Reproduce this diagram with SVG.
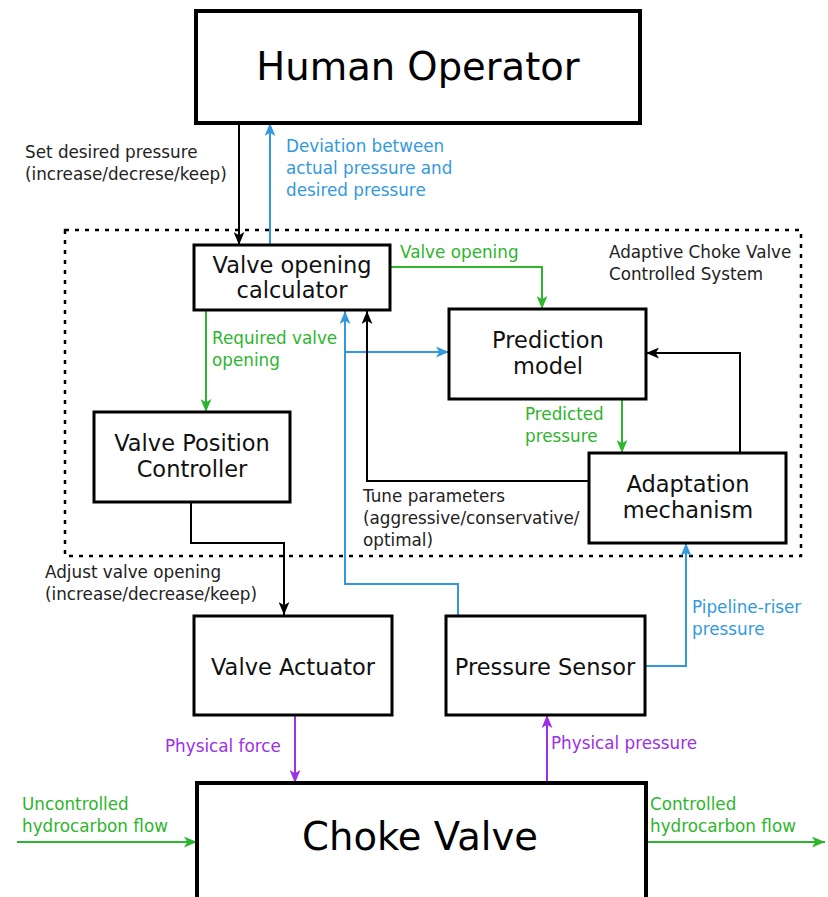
<svg xmlns="http://www.w3.org/2000/svg" width="828" height="897" viewBox="0 0 828 897">
  <style>
    .box { fill: #fff; stroke: #000; stroke-width: 3; }
    .big { fill: #fff; stroke: #000; stroke-width: 4; }
    .bt { font-family: "DejaVu Sans", Verdana, sans-serif; font-size: 22.5px; fill: #111; text-anchor: middle; }
    .ht { font-family: "DejaVu Sans", Verdana, sans-serif; font-size: 38.5px; fill: #000; text-anchor: middle; }
    .lb { font-family: "DejaVu Sans", Verdana, sans-serif; font-size: 16.8px; }
    .k { fill: #222; }
    .g { fill: #2db52d; }
    .b { fill: #3399dd; }
    .p { fill: #9b30e8; }
    .c { fill: none; stroke-width: 2; }
    .ck { stroke: #000; }
    .cg { stroke: #2db52d; }
    .cb { stroke: #3399dd; }
    .cp { stroke: #9b30e8; }
  </style>
  <defs>
    <marker id="ak" viewBox="0 0 12 10" refX="12" refY="5" markerWidth="13" markerHeight="11" markerUnits="userSpaceOnUse" orient="auto">
      <path d="M0,0 L12,5 L0,10 L3,5 z" fill="#000"/>
    </marker>
    <marker id="ag" viewBox="0 0 12 10" refX="12" refY="5" markerWidth="13" markerHeight="11" markerUnits="userSpaceOnUse" orient="auto">
      <path d="M0,0 L12,5 L0,10 L3,5 z" fill="#2db52d"/>
    </marker>
    <marker id="ab" viewBox="0 0 12 10" refX="12" refY="5" markerWidth="13" markerHeight="11" markerUnits="userSpaceOnUse" orient="auto">
      <path d="M0,0 L12,5 L0,10 L3,5 z" fill="#3399dd"/>
    </marker>
    <marker id="ap" viewBox="0 0 12 10" refX="12" refY="5" markerWidth="13" markerHeight="11" markerUnits="userSpaceOnUse" orient="auto">
      <path d="M0,0 L12,5 L0,10 L3,5 z" fill="#9b30e8"/>
    </marker>
  </defs>

  <rect width="828" height="897" fill="#fff"/>

  <!-- system boundary -->
  <g id="boundary">
    <rect x="65" y="230" width="736" height="326" fill="none" stroke="#000" stroke-width="2.5" stroke-dasharray="4 6"/>
    <text class="lb k" x="609" y="258">Adaptive Choke Valve</text>
    <text class="lb k" x="609" y="280">Controlled System</text>
  </g>

  <!-- connectors -->
  <g id="connectors">
    <path class="c ck" d="M239,123 V245" marker-end="url(#ak)"/>
    <path class="c cb" d="M270,245 V123" marker-end="url(#ab)"/>
    <path class="c cg" d="M391,267 H542 V309" marker-end="url(#ag)"/>
    <path class="c cg" d="M206,311 V412" marker-end="url(#ag)"/>
    <path class="c cg" d="M622,399 V453" marker-end="url(#ag)"/>
    <path class="c cb" d="M458,615 V584 H345 V311" marker-end="url(#ab)"/>
    <path class="c cb" d="M345,352 H449" marker-end="url(#ab)"/>
    <path class="c ck" d="M589,481 H367 V311" marker-end="url(#ak)"/>
    <path class="c ck" d="M740,453 V353 H646" marker-end="url(#ak)"/>
    <path class="c cb" d="M645,666 H686 V543" marker-end="url(#ab)"/>
    <path class="c ck" d="M191,502 V543 H284 V615" marker-end="url(#ak)"/>
    <path class="c cp" d="M295,715 V783" marker-end="url(#ap)"/>
    <path class="c cp" d="M547,783 V715" marker-end="url(#ap)"/>
    <path class="c cg" d="M17,842 H197" marker-end="url(#ag)" stroke-width="2.5"/>
    <path class="c cg" d="M646,842 H825" marker-end="url(#ag)" stroke-width="2.5"/>
  </g>

  <!-- connector labels -->
  <g id="labels">
    <text class="lb k" x="25" y="158">Set desired pressure</text>
    <text class="lb k" x="25" y="180">(increase/decrese/keep)</text>
    <text class="lb b" x="286" y="152">Deviation between</text>
    <text class="lb b" x="286" y="174">actual pressure and</text>
    <text class="lb b" x="286" y="196">desired pressure</text>
    <text class="lb g" x="400" y="258">Valve opening</text>
    <text class="lb g" x="212" y="344">Required valve</text>
    <text class="lb g" x="212" y="366">opening</text>
    <text class="lb g" x="525" y="420">Predicted</text>
    <text class="lb g" x="525" y="442">pressure</text>
    <text class="lb k" x="363" y="502">Tune parameters</text>
    <text class="lb k" x="363" y="524">(aggressive/conservative/</text>
    <text class="lb k" x="363" y="546">optimal)</text>
    <text class="lb k" x="45" y="578">Adjust valve opening</text>
    <text class="lb k" x="45" y="600">(increase/decrease/keep)</text>
    <text class="lb b" x="692" y="613">Pipeline-riser</text>
    <text class="lb b" x="692" y="635">pressure</text>
    <text class="lb p" x="165" y="752">Physical force</text>
    <text class="lb p" x="551" y="749">Physical pressure</text>
    <text class="lb g" x="22" y="810">Uncontrolled</text>
    <text class="lb g" x="22" y="832">hydrocarbon flow</text>
    <text class="lb g" x="650" y="810">Controlled</text>
    <text class="lb g" x="650" y="832">hydrocarbon flow</text>
  </g>

  <!-- nodes -->
  <g id="human-operator">
    <rect class="big" x="196" y="11" width="444" height="112"/>
    <text class="ht" x="418" y="80">Human Operator</text>
  </g>
  <g id="valve-opening-calculator">
    <rect class="box" x="194" y="245" width="196" height="65"/>
    <text class="bt" x="292" y="273">Valve opening</text>
    <text class="bt" x="292" y="298">calculator</text>
  </g>
  <g id="prediction-model">
    <rect class="box" x="449" y="309" width="197" height="90"/>
    <text class="bt" x="548" y="348">Prediction</text>
    <text class="bt" x="548" y="374">model</text>
  </g>
  <g id="valve-position-controller">
    <rect class="box" x="94" y="412" width="196" height="90"/>
    <text class="bt" x="192" y="451">Valve Position</text>
    <text class="bt" x="192" y="477">Controller</text>
  </g>
  <g id="adaptation-mechanism">
    <rect class="box" x="589" y="453" width="197" height="90"/>
    <text class="bt" x="688" y="492">Adaptation</text>
    <text class="bt" x="688" y="518">mechanism</text>
  </g>
  <g id="valve-actuator">
    <rect class="box" x="194" y="616" width="198" height="99"/>
    <text class="bt" x="293" y="675">Valve Actuator</text>
  </g>
  <g id="pressure-sensor">
    <rect class="box" x="446" y="616" width="199" height="99"/>
    <text class="bt" x="545" y="675">Pressure Sensor</text>
  </g>
  <g id="choke-valve">
    <rect class="big" x="197" y="783" width="449" height="120"/>
    <text class="ht" x="420" y="850">Choke Valve</text>
  </g>
</svg>
